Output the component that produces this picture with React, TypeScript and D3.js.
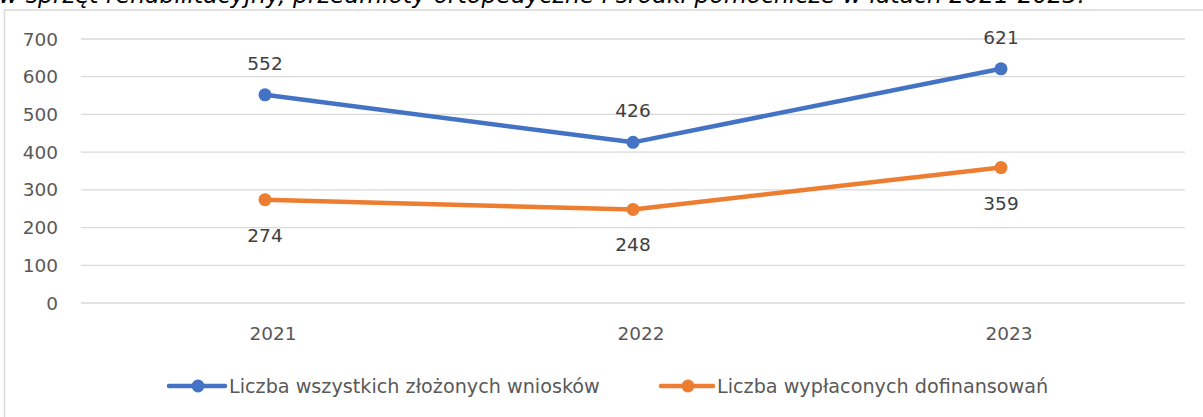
import React from "react";
import * as d3 from "d3";

const categories = ["2021", "2022", "2023"];
const seriesNames = ["Liczba wszystkich złożonych wniosków", "Liczba wypłaconych dofinansowań"];
const applications = [552, 426, 621];
const payouts = [274, 248, 359];
const yTicks = [0, 100, 200, 300, 400, 500, 600, 700];
const titleText = "w sprzęt rehabilitacyjny, przedmioty ortopedyczne i środki pomocnicze w latach 2021-2023.";

const W = 1203;
const H = 417;
const FONT = "'DejaVu Sans', Verdana, sans-serif";

export default function App() {
  const x = d3.scaleBand<string>().domain(categories).range([81, 1185]);
  const y = d3.scaleLinear().domain([0, 700]).range([303, 39]);
  const cx = (c: string) => (x(c) as number) + x.bandwidth() / 2;
  const line = d3
    .line<number>()
    .x((_, i) => cx(categories[i]))
    .y((d) => y(d));

  const series = [
    { name: seriesNames[0], values: applications, color: "#4472C4", labelDy: -25 },
    { name: seriesNames[1], values: payouts, color: "#ED7D31", labelDy: 42 },
  ];
  const legendX = [{ l1: 169, dot: 198, l2: 225, tx: 229 }, { l1: 661, dot: 688, l2: 713, tx: 717 }];

  return (
    <svg
      width={W}
      height={H}
      style={{ position: "absolute", left: 0, top: 0, background: "#fff" }}
      fontFamily={FONT}
    >
      <text x={-1} y={3} fontSize={23.5} fontStyle="italic" fill="#000" textLength={1086} lengthAdjust="spacingAndGlyphs">
        {titleText}
      </text>
      <line x1={4} x2={W} y1={10} y2={10} stroke="#d9d9d9" strokeWidth={1.5} />
      <line x1={4.5} x2={4.5} y1={10} y2={H} stroke="#d9d9d9" strokeWidth={1.5} />
      {yTicks.map((t) => (
        <g key={t}>
          <line x1={81} x2={1185} y1={y(t)} y2={y(t)} stroke="#d9d9d9" strokeWidth={1.3} />
          <text x={58} y={y(t) + 6.5} textAnchor="end" fontSize={18.5} fill="#595959">
            {t}
          </text>
        </g>
      ))}
      {categories.map((c) => (
        <text key={c} x={cx(c) + 8} y={340} textAnchor="middle" fontSize={18.5} fill="#595959">
          {c}
        </text>
      ))}
      {series.map((s) => (
        <g key={s.name}>
          <path d={line(s.values) || ""} fill="none" stroke={s.color} strokeWidth={4.5} strokeLinejoin="round" strokeLinecap="round" />
          {s.values.map((v, i) => (
            <g key={i}>
              <circle cx={cx(categories[i])} cy={y(v)} r={6.5} fill={s.color} />
              <text x={cx(categories[i])} y={y(v) + s.labelDy} textAnchor="middle" fontSize={18.5} fill="#404040">
                {v}
              </text>
            </g>
          ))}
        </g>
      ))}
      {series.map((s, i) => (
        <g key={"leg" + i}>
          <line x1={legendX[i].l1} x2={legendX[i].l2} y1={386} y2={386} stroke={s.color} strokeWidth={4.5} strokeLinecap="round" />
          <circle cx={legendX[i].dot} cy={386} r={6.5} fill={s.color} />
          <text x={legendX[i].tx} y={392.5} fontSize={19.2} fill="#595959">
            {s.name}
          </text>
        </g>
      ))}
    </svg>
  );
}
